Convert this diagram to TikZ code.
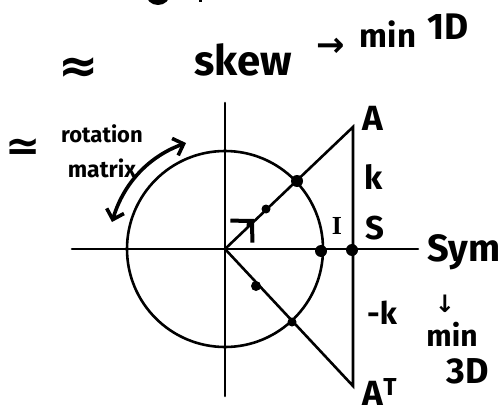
\documentclass[tikz,border=0pt]{standalone}
\usepackage{fontspec}
\setmainfont{Fira Sans}
\newfontfamily\symfont{DejaVu Sans}
\newfontfamily\seriffont{Liberation Serif}
\usetikzlibrary{arrows.meta}
\tikzset{
  ln/.style={line width=2.6pt, line cap=round},
  hw/.style={inner sep=0pt, font=\bfseries#1},
  bigdot/.style={circle, fill=black, inner sep=0pt, minimum size=12pt},
  smalldot/.style={circle, fill=black, inner sep=0pt, minimum size=9pt},
  barbs/.style={line width=3.6pt, line cap=round},
}
\newcommand{\fs}[1]{\fontsize{#1}{#1}\selectfont}
\begin{document}
\begin{tikzpicture}[x=1pt,y=-1pt]
\path[use as bounding box] (0,0) rectangle (502,414);
% cut-off fragment at the top edge
\begin{scope}
\clip (0,0) rectangle (502,414);
\fill (158,-6) ellipse [x radius=12, y radius=11];
\fill (199,-1) rectangle (202,2);
\end{scope}
% coordinates
\coordinate (O) at (225,249);
\coordinate (xl) at (72,249);
\coordinate (xr) at (418,249);
\coordinate (yt) at (225,103);
\coordinate (yb) at (225,396);
\coordinate (VA) at (353,127);
\coordinate (VB) at (353,386);
% axes and circle
\draw[ln] (xl) -- (xr);
\draw[ln] (yt) -- (yb);
\draw[ln] (O) circle [radius=98];
% triangle
\draw[ln] (O) -- (VA) -- (VB) -- (O);
% dots
\node[bigdot] (d1) at (297,181) {};
\node[smalldot] (d2) at (266,209) {};
\node[bigdot] (d3) at (321,251) {};
\node[bigdot] (d4) at (352,250) {};
\node[smalldot] (d5) at (292,322) {};
\node[bigdot, minimum size=10pt] (d6) at (256,286) {};
% small arrow head on diagonal
\coordinate (tipb) at (248,225);
\coordinate (tip) at (254,219);
\draw[barbs, -{Straight Barb[length=15pt,width=31pt,line width=4pt]}] (tipb) -- (tip);
% curved double arrow
\coordinate (rl) at (112,222);
\coordinate (ru) at (186,143);
\draw[barbs, {Straight Barb[length=9pt,width=18pt]}-{Straight Barb[length=9pt,width=18pt]}] (rl) .. controls (124,182) and (150,156) .. (ru);
% texts
\node[hw={\symfont\fs{48}}] (approx) at (79,70) {≈};
\node[hw={\fs{42}}] (skew) at (243,60) {skew};
\node[hw={\symfont\fs{34}}] (arr) at (331,47) {→};
\node[hw={\fs{33}}] (min1) at (388,34) {min};
\node[hw={\fs{37}}] (oneD) at (448,27) {1D};
\node[hw={\symfont\fs{42}}] (simeq) at (23,150) {≃};
\node[hw={\fs{22}}] (rot) at (102,134) {rotation};
\node[hw={\fs{23}}] (mat) at (102,168) {matrix};
\node[hw={\fs{35}}] (A) at (373,118) {A};
\node[hw={\fs{33}}] (k) at (374,177) {k};
\node[hw={\fs{33}}] (S) at (375,228) {S};
\node[hw={\seriffont\fs{26}}] (I) at (337,226) {I};
\node[hw={\fs{38}}] (Sym) at (464,252) {Sym};
\node[hw={\fs{31}}] (mk) at (382,313) {-k};
\node[hw={\symfont\fs{24}}] (down) at (445,304) {↓};
\node[hw={\fs{30}}] (min2) at (452,334) {min};
\node[hw={\fs{36}}] (threeD) at (468,371) {3D};
\node[hw={\fs{35}}] (AT) at (380,392) {A\textsuperscript{T}};
\end{tikzpicture}
\end{document}
